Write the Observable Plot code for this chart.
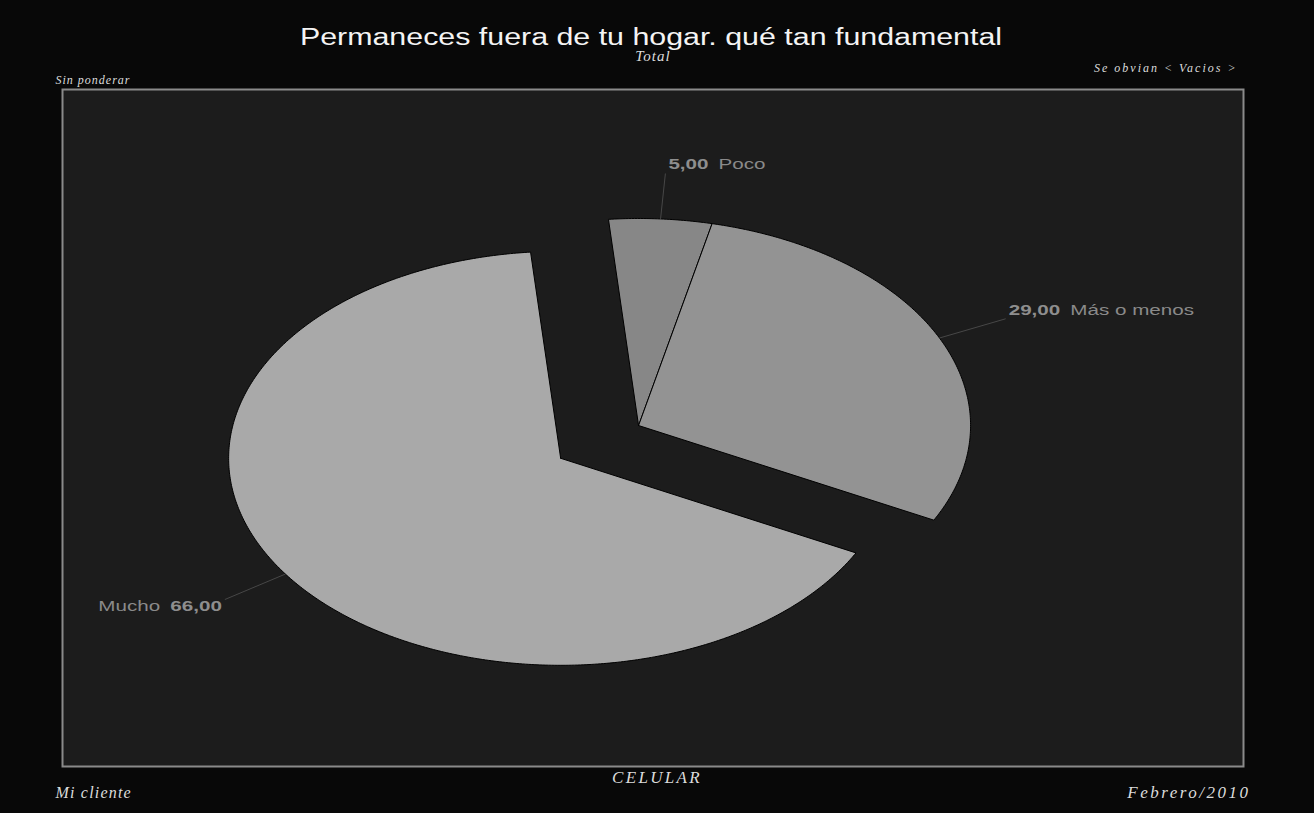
<!DOCTYPE html>
<html>
<head>
<meta charset="utf-8">
<script src="https://cdn.jsdelivr.net/npm/d3@7"></script>
<script src="https://cdn.jsdelivr.net/npm/@observablehq/plot@0.6"></script>
<style>
  html, body { margin: 0; padding: 0; background: #080808; }
  #chart { width: 1314px; height: 813px; }
</style>
</head>
<body>
<div id="chart"></div>
<script>
// ---- data ----
const categories = ["Poco", "Más o menos", "Mucho"];
const values = [5, 29, 66];
const valueLabels = ["5,00", "29,00", "66,00"];
const explode = [0, 0, 0.283];
const sliceColors = ["#878787", "#939393", "#a9a9a9"];
const startAngleDeg = -5.2;

const titleText = "Permaneces fuera de tu hogar. qué tan fundamental";
const subtitleText = "Total";
const topLeftNote = "Sin ponderar";
const topRightNote = "Se obvian < Vacios >";
const bottomLeftNote = "Mi cliente";
const bottomCenterNote = "CELULAR";
const bottomRightNote = "Febrero/2010";

// ---- slice geometry (ellipse parameter space: x = sin θ, y = cos θ) ----
const total = d3.sum(values);
let acc = startAngleDeg * Math.PI / 180;
const slices = categories.map((c, i) => {
  const a0 = acc;
  const a1 = acc + values[i] / total * 2 * Math.PI;
  acc = a1;
  const mid = (a0 + a1) / 2;
  const cx = explode[i] * Math.sin(mid);
  const cy = explode[i] * Math.cos(mid);
  return {cat: c, value: values[i], label: valueLabels[i], a0, a1, mid, cx, cy};
});

const polyPoints = [];
for (const s of slices) {
  polyPoints.push({cat: s.cat, x: s.cx, y: s.cy});
  const n = Math.max(4, Math.ceil((s.a1 - s.a0) / (Math.PI / 360)));
  for (let k = 0; k <= n; k++) {
    const t = s.a0 + (s.a1 - s.a0) * k / n;
    polyPoints.push({cat: s.cat, x: s.cx + Math.sin(t), y: s.cy + Math.cos(t)});
  }
  polyPoints.push({cat: s.cat, x: s.cx, y: s.cy});
}

const rIn = 1.0, rOut = 1.22;
const leaders = slices.map(s => ({
  cat: s.cat,
  x1: s.cx + rIn * Math.sin(s.mid), y1: s.cy + rIn * Math.cos(s.mid),
  x2: s.cx + rOut * Math.sin(s.mid), y2: s.cy + rOut * Math.cos(s.mid),
  right: Math.sin(s.mid) >= 0, upper: Math.cos(s.mid) >= 0,
  label: s.label
}));

// label text measuring (labels are drawn horizontally stretched, like the original)
const sansFamily = "'Liberation Sans', Arial, sans-serif";
const labelSize = 15.5;
const labelStretch = 1.33;
const ctx = document.createElement("canvas").getContext("2d");
function measure(text, font) {
  ctx.font = font;
  return ctx.measureText(text).width;
}
const gap = 10;
const pad = 3;
leaders.forEach(l => {
  const vw = measure(l.label, `bold ${labelSize}px ${sansFamily}`) * labelStretch;
  l.valueDx = l.right ? pad : -pad;
  l.nameDx = l.right ? pad + vw + gap : -(pad + vw + gap);
  l.anchor = l.right ? "start" : "end";
  l.lineAnchor = l.upper ? "bottom" : "top";
  l.dy = l.upper ? -4 : 0;
});

const serif = "'Liberation Serif', 'Times New Roman', serif";
const noteColor = "#dcdcdc";

const chart = Plot.plot({
  width: 1314,
  height: 813,
  marginLeft: 62,
  marginRight: 71,
  marginTop: 89,
  marginBottom: 47,
  style: {background: "#080808", overflow: "visible"},
  x: {domain: [-1.735, 1.822], axis: null},
  y: {domain: [-1.647, 1.623], axis: null},
  color: {domain: categories, range: sliceColors},
  marks: [
    Plot.frame({fill: "#1c1c1c", stroke: "#8a8a8a", strokeWidth: 2}),
    Plot.line(polyPoints, {x: "x", y: "y", z: "cat", fill: "cat", stroke: "#000", strokeWidth: 1, curve: "linear"}),
    Plot.link(leaders, {x1: "x1", y1: "y1", x2: "x2", y2: "y2", stroke: "#474747", strokeWidth: 1}),
    ...leaders.map(l => Plot.text([l], {
      x: "x2", y: "y2", text: "label", dx: l.valueDx, dy: l.dy, textAnchor: l.anchor, lineAnchor: l.lineAnchor,
      fill: "#8e8e8e", fontWeight: "bold", fontSize: labelSize, fontFamily: sansFamily, className: "stretch-label"
    })),
    ...leaders.map(l => Plot.text([l], {
      x: "x2", y: "y2", text: "cat", dx: l.nameDx, dy: l.dy, textAnchor: l.anchor, lineAnchor: l.lineAnchor,
      fill: "#8a8a8a", fontSize: labelSize, fontFamily: sansFamily, className: "stretch-label"
    })),
    Plot.text([titleText], {text: d => d, frameAnchor: "top", lineAnchor: "middle", dy: -52, dx: -2, fill: "#f4f4f4",
      fontSize: 23, fontFamily: sansFamily, className: "stretch-title"}),
    Plot.text([subtitleText], {text: d => d, frameAnchor: "top", lineAnchor: "middle", dy: -33, fill: noteColor,
      fontSize: 15, fontStyle: "italic", fontFamily: serif}),
    Plot.text([topLeftNote], {text: d => d, frameAnchor: "top-left", lineAnchor: "middle", textAnchor: "start", dx: -7, dy: -9, fill: noteColor,
      fontSize: 12, fontStyle: "italic", fontFamily: serif}),
    Plot.text([topRightNote], {text: d => d, frameAnchor: "top-right", lineAnchor: "middle", textAnchor: "end", dx: -6, dy: -21, fill: noteColor,
      fontSize: 12, fontStyle: "italic", fontFamily: serif}),
    Plot.text([bottomLeftNote], {text: d => d, frameAnchor: "bottom-left", lineAnchor: "middle", textAnchor: "start", dx: -7, dy: 26, fill: noteColor,
      fontSize: 16, fontStyle: "italic", fontFamily: serif}),
    Plot.text([bottomCenterNote], {text: d => d, frameAnchor: "bottom", lineAnchor: "middle", dx: 4, dy: 11, fill: noteColor,
      fontSize: 17, fontStyle: "italic", fontFamily: serif}),
    Plot.text([bottomRightNote], {text: d => d, frameAnchor: "bottom-right", lineAnchor: "middle", textAnchor: "end", dx: 7, dy: 26, fill: noteColor,
      fontSize: 17, fontStyle: "italic", fontFamily: serif})
  ]
});

// letter spacing for the serif notes
const spacingByText = new Map([
  [subtitleText, "1px"], [topLeftNote, "1px"], [topRightNote, "2px"],
  [bottomLeftNote, "1.2px"], [bottomCenterNote, "2.3px"], [bottomRightNote, "2.5px"]
]);
chart.querySelectorAll("text").forEach(t => {
  const s = spacingByText.get(t.textContent);
  if (s) t.style.letterSpacing = s;
});

document.getElementById("chart").appendChild(chart);

// horizontal stretch of the sans-serif texts (as in the original rendering)
function stretch(selector, factor) {
  chart.querySelectorAll(selector + " text").forEach(t => {
    const w = t.getComputedTextLength();
    t.setAttribute("textLength", (w * factor).toFixed(1));
    t.setAttribute("lengthAdjust", "spacingAndGlyphs");
  });
}
stretch(".stretch-label", labelStretch);
stretch(".stretch-title", 1.32);
</script>
</body>
</html>
